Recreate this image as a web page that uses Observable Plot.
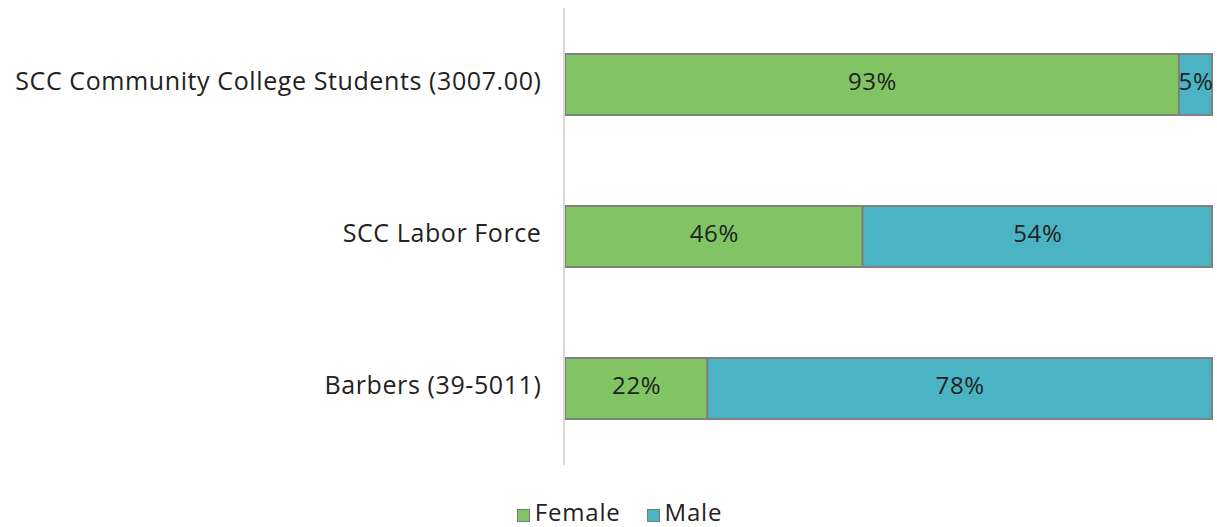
<!DOCTYPE html>
<html>
<head>
<meta charset="utf-8">
<script src="https://cdn.jsdelivr.net/npm/d3@7"></script>
<script src="https://cdn.jsdelivr.net/npm/@observablehq/plot@0.6"></script>
<style>
  body { margin: 0; background: #fff; font-family: "Open Sans", sans-serif; overflow: hidden; }
  #chart svg text { letter-spacing: 0.6px; }
  #legend { display: flex; justify-content: center; align-items: center; gap: 26px; font-size: 24px; letter-spacing: 0.8px; color: #222; height: 30px; line-height: 30px; margin-top: 22px; margin-left: 22px; }
  .item { display: flex; align-items: center; gap: 5px; }
  .sw { width: 11px; height: 11px; border: 1.5px solid #7a7a7a; margin-top: 6px; }
</style>
</head>
<body>
<div id="chart"></div>
<div id="legend"></div>
<script>
const categories = ["SCC Community College Students (3007.00)", "SCC Labor Force", "Barbers (39-5011)"];
const series = ["Female", "Male"];
const female = [93, 46, 22];
const male = [5, 54, 78];
const colors = ["#80c463", "#4ab4c4"];

const data = [];
categories.forEach((c, i) => {
  data.push({category: c, sex: "Female", value: female[i]});
  data.push({category: c, sex: "Male", value: male[i]});
});

const plot = Plot.plot({
  width: 1217,
  height: 475,
  marginLeft: 565,
  marginRight: 5,
  marginTop: 8,
  marginBottom: 11,
  style: {fontFamily: "'Open Sans', sans-serif", fontSize: "25px", color: "#222"},
  x: {axis: null, domain: [0, 1]},
  y: {domain: categories, paddingInner: 0.6, paddingOuter: 0.3, align: 0.5, label: null, axis: null},
  color: {domain: series, range: colors},
  marks: [
    Plot.axisY({tickSize: 0, tickPadding: 24, dy: -3, label: null}),
    Plot.barX(data, Plot.stackX({offset: "normalize", order: series, x: "value", y: "category", fill: "sex", stroke: "#808080", strokeWidth: 2})),
    Plot.text(data, Plot.stackX({offset: "normalize", order: series, x: "value", y: "category", z: "sex", text: d => d.value + "%", fill: "#222", fontSize: 24, dy: -3}))
  ]
});
document.getElementById("chart").append(plot);

const svgNS = "http://www.w3.org/2000/svg";
const line = document.createElementNS(svgNS, "line");
line.setAttribute("x1", 564); line.setAttribute("x2", 564);
line.setAttribute("y1", 8); line.setAttribute("y2", 465);
line.setAttribute("stroke", "#d9d9d9"); line.setAttribute("stroke-width", 2);
plot.appendChild(line);

const legend = document.getElementById("legend");
series.forEach((s, i) => {
  const it = document.createElement("div"); it.className = "item";
  const sw = document.createElement("div"); sw.className = "sw"; sw.style.background = colors[i];
  const t = document.createElement("span"); t.textContent = s;
  it.append(sw, t); legend.append(it);
});
</script>
</body>
</html>
